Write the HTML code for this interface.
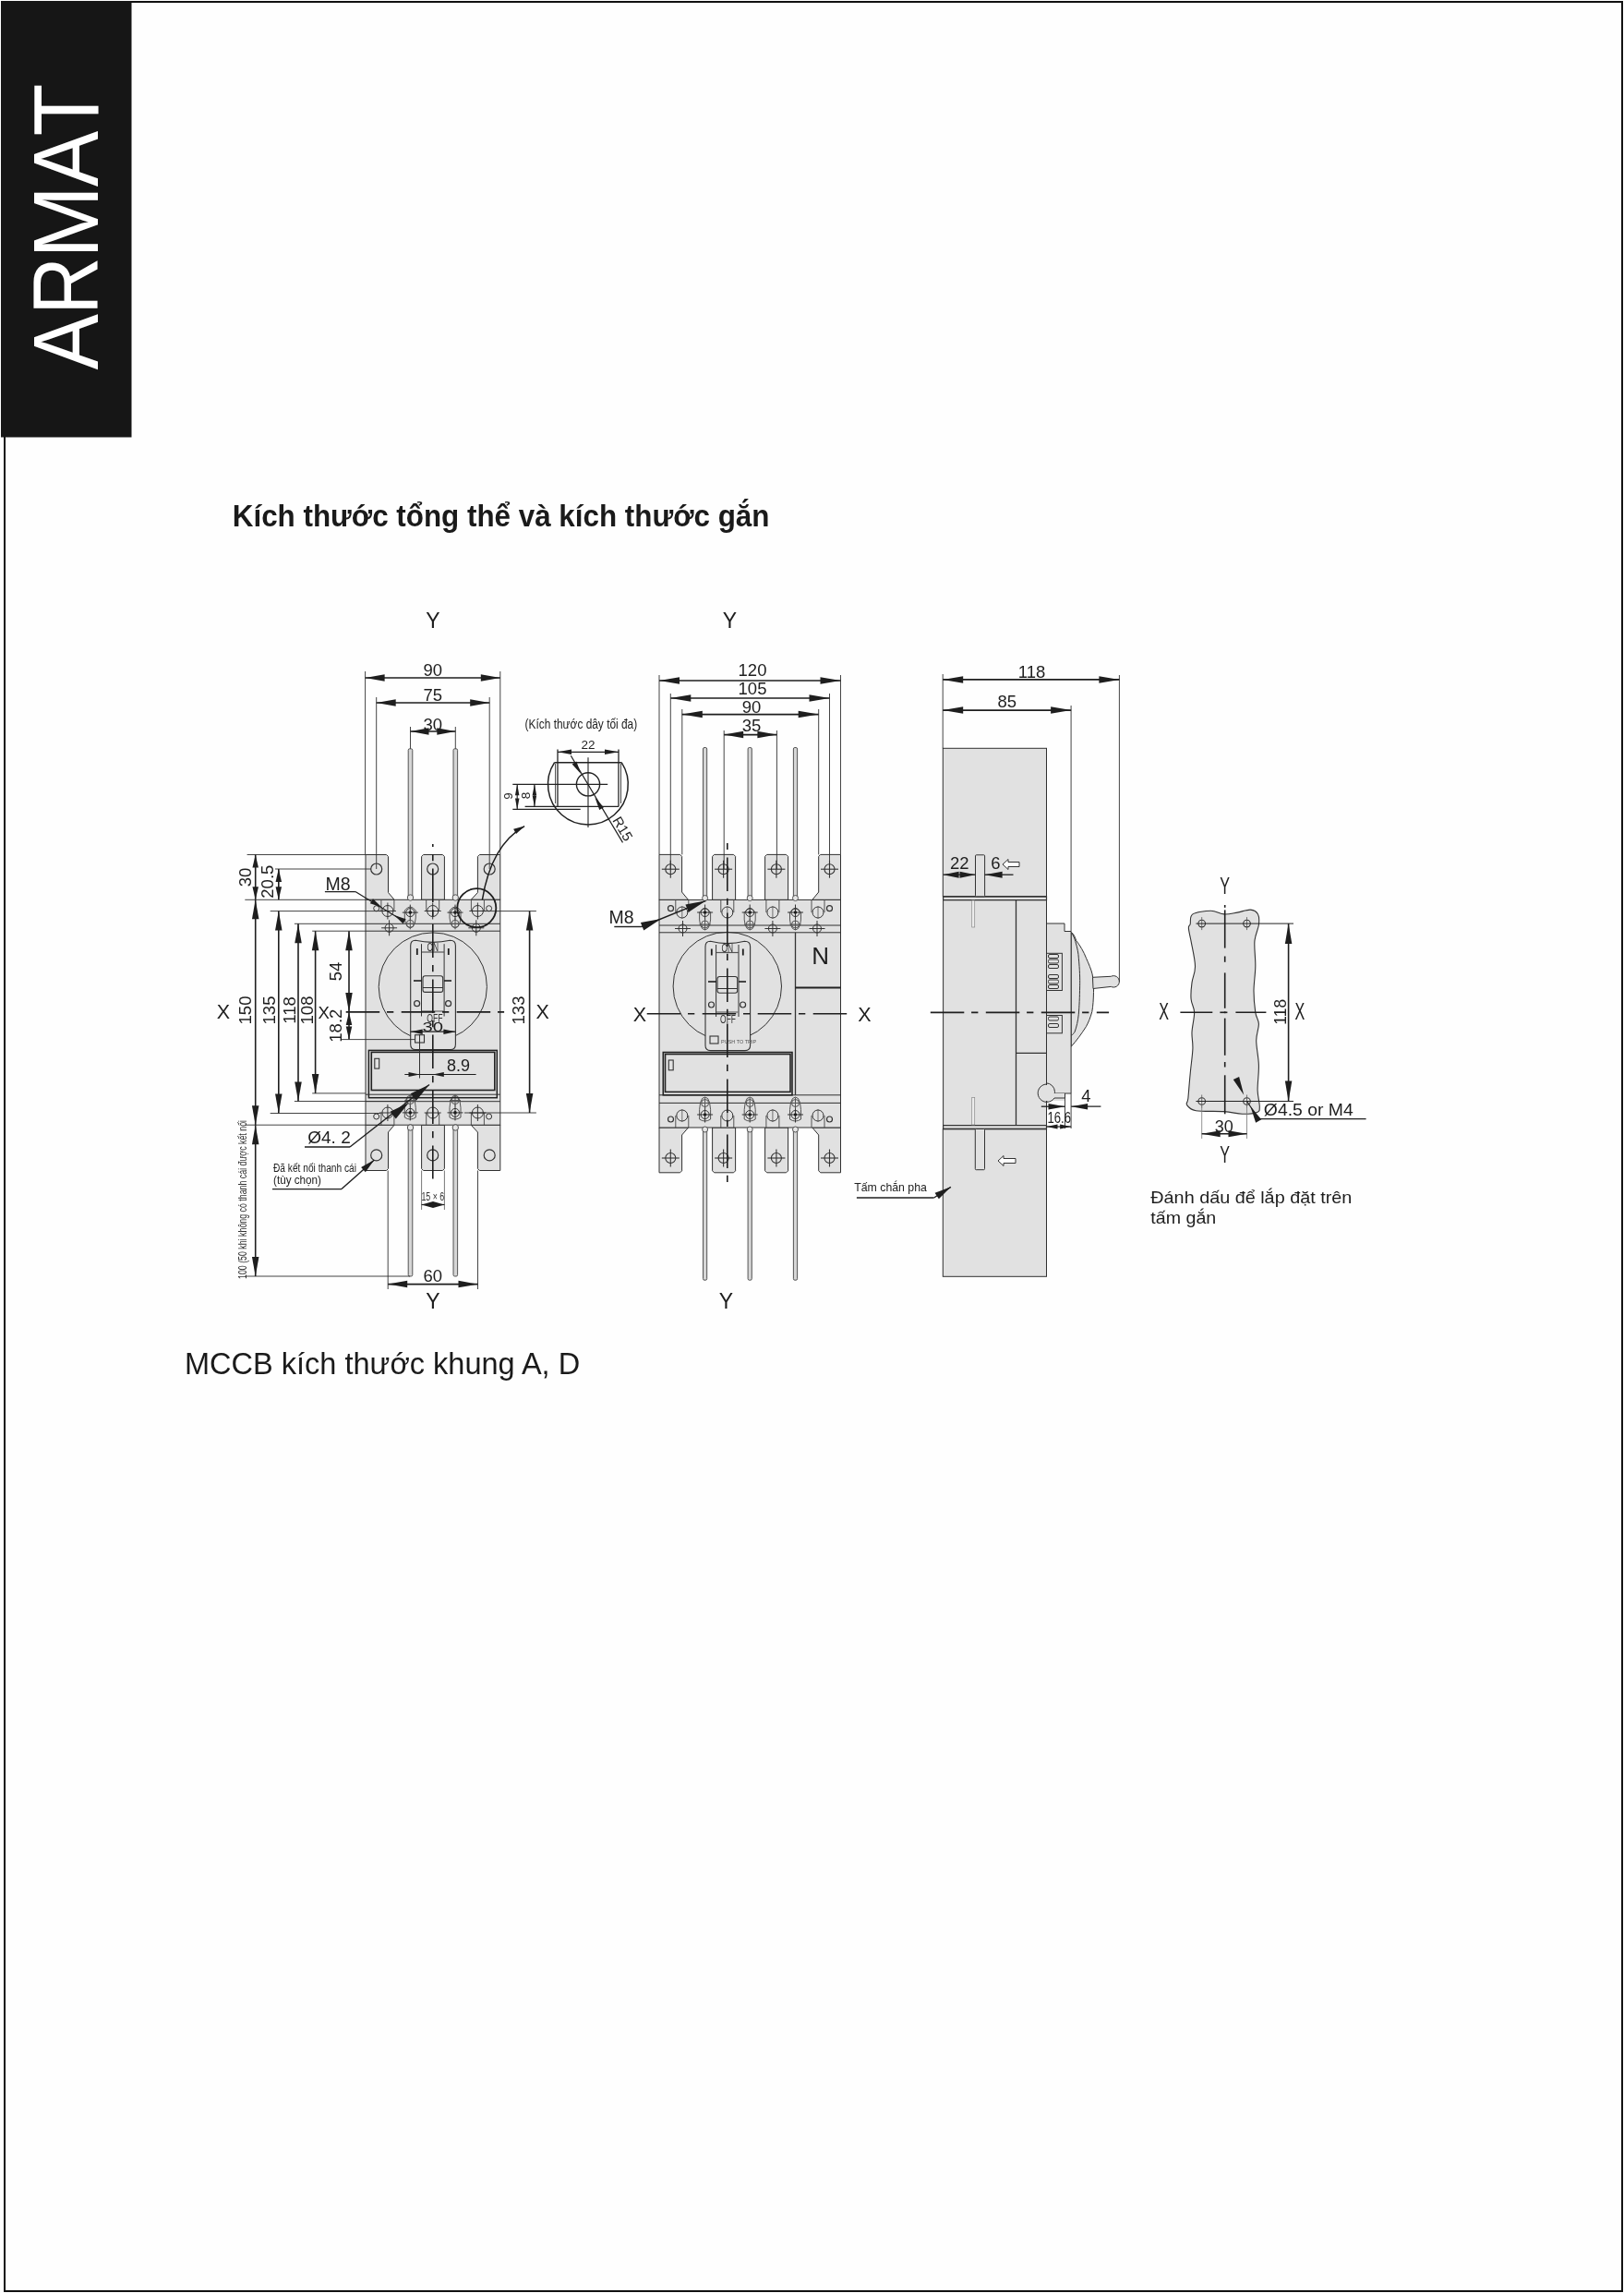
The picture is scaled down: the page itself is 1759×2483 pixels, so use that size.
<!DOCTYPE html>
<html><head><meta charset="utf-8">
<style>
html,body{margin:0;padding:0;background:#fff;}
body{width:1759px;height:2483px;overflow:hidden;position:relative;font-family:"Liberation Sans",sans-serif;}
svg{position:absolute;left:0;top:0;will-change:transform;}
</style></head>
<body>
<svg width="1759" height="2483" viewBox="0 0 1759 2483" font-family="Liberation Sans, sans-serif">
<rect x="0" y="0" width="1759" height="2483" fill="#fefefe"/>
<rect x="5" y="2" width="1752" height="2479" fill="none" stroke="#111" stroke-width="2"/>
<rect x="1" y="1" width="141.5" height="472.5" fill="#161616"/>
<text transform="translate(106,400.2) rotate(-90) translate(-0.18,0) scale(0.908,1)" font-size="100" fill="#fff">A</text>
<text transform="translate(106,400.2) rotate(-90) translate(59.27,0) scale(0.87,1)" font-size="100" fill="#fff">R</text>
<text transform="translate(106,400.2) rotate(-90) translate(120.54,0) scale(0.946,1)" font-size="100" fill="#fff">M</text>
<text transform="translate(106,400.2) rotate(-90) translate(198.02,0) scale(0.908,1)" font-size="100" fill="#fff">A</text>
<text transform="translate(106,400.2) rotate(-90) translate(252.86,0) scale(0.926,1)" font-size="100" fill="#fff">T</text>
<text transform="translate(251.8,569.7) scale(0.954,1)" font-size="32.9" font-weight="bold" fill="#1a1a1a">Kích thước tổng thể và kích thước gắn</text>
<text transform="translate(200,1488) scale(0.957,1)" font-size="34" fill="#1a1a1a">MCCB kích thước khung A, D</text>
<polygon points="396,925.5 418.5,925.5 420.5,927.5 420.5,966.5 427.1,974.3 396,974.3" fill="#e1e1e1" stroke="#303030" stroke-width="1.0" stroke-linejoin="round"/>
<polygon points="456.6,974.3 456.6,927.5 458.6,925.5 479.4,925.5 481.4,927.5 481.4,974.3" fill="#e1e1e1" stroke="#303030" stroke-width="1.0" stroke-linejoin="round"/>
<polygon points="541.8,925.5 519.4,925.5 517.4,927.5 517.4,966.5 510.2,974.3 541.8,974.3" fill="#e1e1e1" stroke="#303030" stroke-width="1.0" stroke-linejoin="round"/>
<polygon points="396,1218.2 427.1,1218.2 420.5,1226 420.5,1265.5 418.5,1267.5 396,1267.5" fill="#e1e1e1" stroke="#303030" stroke-width="1.0" stroke-linejoin="round"/>
<polygon points="456.6,1218.2 456.6,1265.5 458.6,1267.5 479.4,1267.5 481.4,1265.5 481.4,1218.2" fill="#e1e1e1" stroke="#303030" stroke-width="1.0" stroke-linejoin="round"/>
<polygon points="541.8,1218.2 510.2,1218.2 517.4,1226 517.4,1265.5 519.4,1267.5 541.8,1267.5" fill="#e1e1e1" stroke="#303030" stroke-width="1.0" stroke-linejoin="round"/>
<circle cx="407.7" cy="941" r="6" fill="none" stroke="#333" stroke-width="1.2"/>
<circle cx="407.7" cy="1250.9" r="6" fill="none" stroke="#333" stroke-width="1.2"/>
<circle cx="468.7" cy="941" r="6" fill="none" stroke="#333" stroke-width="1.2"/>
<circle cx="468.7" cy="1250.9" r="6" fill="none" stroke="#333" stroke-width="1.2"/>
<circle cx="530.2" cy="941" r="6" fill="none" stroke="#333" stroke-width="1.2"/>
<circle cx="530.2" cy="1250.9" r="6" fill="none" stroke="#333" stroke-width="1.2"/>
<rect x="396" y="974.3" width="145.8" height="243.9" fill="#e1e1e1" stroke="#303030" stroke-width="1.0"/>
<line x1="396" y1="1000.3" x2="541.8" y2="1000.3" stroke="#303030" stroke-width="1.0" stroke-linecap="butt"/>
<line x1="396" y1="1008.2" x2="541.8" y2="1008.2" stroke="#303030" stroke-width="1.0" stroke-linecap="butt"/>
<line x1="396" y1="1192.7" x2="541.8" y2="1192.7" stroke="#303030" stroke-width="1.0" stroke-linecap="butt"/>
<path d="M412.9,974.3 V986.5 M426.9,974.3 V986.5" fill="none" stroke="#444" stroke-width="0.9" />
<circle cx="419.9" cy="986.5" r="6" fill="none" stroke="#333" stroke-width="1.0"/>
<line x1="410.9" y1="986.5" x2="428.9" y2="986.5" stroke="#333" stroke-width="1.0" stroke-linecap="butt"/>
<line x1="419.9" y1="977.5" x2="419.9" y2="995.5" stroke="#333" stroke-width="1.0" stroke-linecap="butt"/>
<path d="M510.4,974.3 V986.5 M524.4,974.3 V986.5" fill="none" stroke="#444" stroke-width="0.9" />
<circle cx="517.4" cy="986.5" r="6" fill="none" stroke="#333" stroke-width="1.0"/>
<line x1="508.4" y1="986.5" x2="526.4" y2="986.5" stroke="#333" stroke-width="1.0" stroke-linecap="butt"/>
<line x1="517.4" y1="977.5" x2="517.4" y2="995.5" stroke="#333" stroke-width="1.0" stroke-linecap="butt"/>
<path d="M461.7,974.3 V986.5 M475.7,974.3 V986.5" fill="none" stroke="#444" stroke-width="0.9" />
<circle cx="468.7" cy="986.5" r="6" fill="none" stroke="#333" stroke-width="1.0"/>
<line x1="459.7" y1="986.5" x2="477.7" y2="986.5" stroke="#333" stroke-width="1.0" stroke-linecap="butt"/>
<line x1="468.7" y1="977.5" x2="468.7" y2="995.5" stroke="#333" stroke-width="1.0" stroke-linecap="butt"/>
<path d="M438.3,986 Q437.3,1004 444.3,1005 Q451.3,1004 450.3,986 Q444.3,978 438.3,986 Z" fill="none" stroke="#444" stroke-width="0.9" />
<circle cx="444.3" cy="988.1" r="4.5" fill="none" stroke="#333" stroke-width="1.0"/>
<line x1="435.8" y1="988.1" x2="452.8" y2="988.1" stroke="#333" stroke-width="1.0" stroke-linecap="butt"/>
<line x1="444.3" y1="979.6" x2="444.3" y2="996.6" stroke="#333" stroke-width="1.0" stroke-linecap="butt"/>
<circle cx="444.3" cy="988.1" r="1.8" fill="#1e1e1e" stroke="none" stroke-width="0"/>
<circle cx="444.3" cy="1000.3" r="4" fill="none" stroke="#555" stroke-width="1.0"/>
<line x1="438.3" y1="1000.3" x2="450.3" y2="1000.3" stroke="#555" stroke-width="1.0" stroke-linecap="butt"/>
<line x1="444.3" y1="994.3" x2="444.3" y2="1006.3" stroke="#555" stroke-width="1.0" stroke-linecap="butt"/>
<path d="M487.0,986 Q486.0,1004 493.0,1005 Q500.0,1004 499.0,986 Q493.0,978 487.0,986 Z" fill="none" stroke="#444" stroke-width="0.9" />
<circle cx="493" cy="988.1" r="4.5" fill="none" stroke="#333" stroke-width="1.0"/>
<line x1="484.5" y1="988.1" x2="501.5" y2="988.1" stroke="#333" stroke-width="1.0" stroke-linecap="butt"/>
<line x1="493" y1="979.6" x2="493" y2="996.6" stroke="#333" stroke-width="1.0" stroke-linecap="butt"/>
<circle cx="493" cy="988.1" r="1.8" fill="#1e1e1e" stroke="none" stroke-width="0"/>
<circle cx="493" cy="1000.3" r="4" fill="none" stroke="#555" stroke-width="1.0"/>
<line x1="487" y1="1000.3" x2="499" y2="1000.3" stroke="#555" stroke-width="1.0" stroke-linecap="butt"/>
<line x1="493" y1="994.3" x2="493" y2="1006.3" stroke="#555" stroke-width="1.0" stroke-linecap="butt"/>
<circle cx="421.6" cy="1004.8" r="4.5" fill="none" stroke="#333" stroke-width="1.0"/>
<line x1="413.1" y1="1004.8" x2="430.1" y2="1004.8" stroke="#333" stroke-width="1.0" stroke-linecap="butt"/>
<line x1="421.6" y1="996.3" x2="421.6" y2="1013.3" stroke="#333" stroke-width="1.0" stroke-linecap="butt"/>
<circle cx="515.8" cy="1004.8" r="4.5" fill="none" stroke="#333" stroke-width="1.0"/>
<line x1="507.3" y1="1004.8" x2="524.3" y2="1004.8" stroke="#333" stroke-width="1.0" stroke-linecap="butt"/>
<line x1="515.8" y1="996.3" x2="515.8" y2="1013.3" stroke="#333" stroke-width="1.0" stroke-linecap="butt"/>
<circle cx="407.7" cy="983.7" r="3" fill="none" stroke="#333" stroke-width="1"/>
<circle cx="529.6" cy="983.7" r="3" fill="none" stroke="#333" stroke-width="1"/>
<path d="M412.9,1218.2 V1205 M426.9,1218.2 V1205" fill="none" stroke="#444" stroke-width="0.9" />
<circle cx="419.9" cy="1205" r="6" fill="none" stroke="#333" stroke-width="1.0"/>
<line x1="410.9" y1="1205" x2="428.9" y2="1205" stroke="#333" stroke-width="1.0" stroke-linecap="butt"/>
<line x1="419.9" y1="1196" x2="419.9" y2="1214" stroke="#333" stroke-width="1.0" stroke-linecap="butt"/>
<path d="M510.4,1218.2 V1205 M524.4,1218.2 V1205" fill="none" stroke="#444" stroke-width="0.9" />
<circle cx="517.4" cy="1205" r="6" fill="none" stroke="#333" stroke-width="1.0"/>
<line x1="508.4" y1="1205" x2="526.4" y2="1205" stroke="#333" stroke-width="1.0" stroke-linecap="butt"/>
<line x1="517.4" y1="1196" x2="517.4" y2="1214" stroke="#333" stroke-width="1.0" stroke-linecap="butt"/>
<path d="M461.7,1218.2 V1205 M475.7,1218.2 V1205" fill="none" stroke="#444" stroke-width="0.9" />
<circle cx="468.7" cy="1205" r="6" fill="none" stroke="#333" stroke-width="1.0"/>
<line x1="459.7" y1="1205" x2="477.7" y2="1205" stroke="#333" stroke-width="1.0" stroke-linecap="butt"/>
<line x1="468.7" y1="1196" x2="468.7" y2="1214" stroke="#333" stroke-width="1.0" stroke-linecap="butt"/>
<path d="M438.3,1210 Q437.3,1186 444.3,1186 Q451.3,1186 450.3,1210 Q444.3,1214 438.3,1210 Z" fill="none" stroke="#444" stroke-width="0.9" />
<circle cx="444.3" cy="1204.9" r="4.5" fill="none" stroke="#333" stroke-width="1.0"/>
<line x1="435.8" y1="1204.9" x2="452.8" y2="1204.9" stroke="#333" stroke-width="1.0" stroke-linecap="butt"/>
<line x1="444.3" y1="1196.4" x2="444.3" y2="1213.4" stroke="#333" stroke-width="1.0" stroke-linecap="butt"/>
<circle cx="444.3" cy="1204.9" r="1.8" fill="#1e1e1e" stroke="none" stroke-width="0"/>
<circle cx="444.3" cy="1191.6" r="4" fill="none" stroke="#555" stroke-width="1.0"/>
<line x1="438.3" y1="1191.6" x2="450.3" y2="1191.6" stroke="#555" stroke-width="1.0" stroke-linecap="butt"/>
<line x1="444.3" y1="1185.6" x2="444.3" y2="1197.6" stroke="#555" stroke-width="1.0" stroke-linecap="butt"/>
<path d="M487.0,1210 Q486.0,1186 493.0,1186 Q500.0,1186 499.0,1210 Q493.0,1214 487.0,1210 Z" fill="none" stroke="#444" stroke-width="0.9" />
<circle cx="493" cy="1204.9" r="4.5" fill="none" stroke="#333" stroke-width="1.0"/>
<line x1="484.5" y1="1204.9" x2="501.5" y2="1204.9" stroke="#333" stroke-width="1.0" stroke-linecap="butt"/>
<line x1="493" y1="1196.4" x2="493" y2="1213.4" stroke="#333" stroke-width="1.0" stroke-linecap="butt"/>
<circle cx="493" cy="1204.9" r="1.8" fill="#1e1e1e" stroke="none" stroke-width="0"/>
<circle cx="493" cy="1191.6" r="4" fill="none" stroke="#555" stroke-width="1.0"/>
<line x1="487" y1="1191.6" x2="499" y2="1191.6" stroke="#555" stroke-width="1.0" stroke-linecap="butt"/>
<line x1="493" y1="1185.6" x2="493" y2="1197.6" stroke="#555" stroke-width="1.0" stroke-linecap="butt"/>
<circle cx="407.7" cy="1209" r="3" fill="none" stroke="#333" stroke-width="1"/>
<circle cx="529.6" cy="1209" r="3" fill="none" stroke="#333" stroke-width="1"/>
<rect x="442.2" y="810.8" width="4.6" height="163.2" rx="1.5" fill="#d6d6d6" stroke="#444" stroke-width="0.9"/>
<rect x="491" y="810.8" width="4.6" height="163.2" rx="1.5" fill="#d6d6d6" stroke="#444" stroke-width="0.9"/>
<rect x="442.2" y="1218.2" width="4.6" height="163.8" rx="1.5" fill="#d6d6d6" stroke="#444" stroke-width="0.9"/>
<rect x="491" y="1218.2" width="4.6" height="163.8" rx="1.5" fill="#d6d6d6" stroke="#444" stroke-width="0.9"/>
<circle cx="444.5" cy="972" r="3.2" fill="#e6e6e6" stroke="#444" stroke-width="0.9"/>
<circle cx="444.5" cy="1221" r="3.2" fill="#e6e6e6" stroke="#444" stroke-width="0.9"/>
<circle cx="493.3" cy="972" r="3.2" fill="#e6e6e6" stroke="#444" stroke-width="0.9"/>
<circle cx="493.3" cy="1221" r="3.2" fill="#e6e6e6" stroke="#444" stroke-width="0.9"/>
<circle cx="468.8" cy="1068.5" r="58.6" fill="none" stroke="#333" stroke-width="1.0"/>
<path d="M444.7,1024 Q444.7,1018.2 450,1018.2 Q468.8,1022.5 487.5,1018.2 Q493.4,1018.2 493.4,1024 V1131 Q493.4,1136.5 488,1136.5 H450 Q444.7,1136.5 444.7,1131 Z" fill="#e1e1e1" stroke="#333" stroke-width="1.1" />
<path d="M456.5,1022.2 V1100.5 M481.1,1022.2 V1100.5" fill="none" stroke="#333" stroke-width="1.0" />
<line x1="457" y1="1031" x2="481" y2="1031" stroke="#555" stroke-width="1.2" stroke-linecap="butt"/>
<line x1="457" y1="1095" x2="481" y2="1095" stroke="#777" stroke-width="1.4" stroke-linecap="butt"/>
<rect x="458" y="1056.7" width="21.7" height="17.7" rx="2.5" fill="#e1e1e1" stroke="#333" stroke-width="1.1"/>
<line x1="458" y1="1069.5" x2="479.7" y2="1069.5" stroke="#303030" stroke-width="1.0" stroke-linecap="butt"/>
<line x1="448" y1="1062" x2="457" y2="1062" stroke="#1e1e1e" stroke-width="1.6" stroke-linecap="butt"/>
<line x1="481" y1="1062" x2="489" y2="1062" stroke="#1e1e1e" stroke-width="1.6" stroke-linecap="butt"/>
<circle cx="451.6" cy="1086.7" r="3" fill="none" stroke="#333" stroke-width="1.2"/>
<circle cx="485.6" cy="1086.7" r="3" fill="none" stroke="#333" stroke-width="1.2"/>
<line x1="451.8" y1="1027" x2="451.8" y2="1034" stroke="#1e1e1e" stroke-width="1.8" stroke-linecap="butt"/>
<line x1="485.8" y1="1027" x2="485.8" y2="1034" stroke="#1e1e1e" stroke-width="1.8" stroke-linecap="butt"/>
<text transform="translate(468.8,1030) scale(0.7,1)" font-size="12" text-anchor="middle" fill="#333">ON</text>
<text transform="translate(470.8,1107) scale(0.72,1)" font-size="12" text-anchor="middle" fill="#333">OFF</text>
<rect x="449.6" y="1120.7" width="9.9" height="8.3" fill="none" stroke="#333" stroke-width="1.1"/>
<rect x="399.4" y="1137.4" width="138.9" height="51.3" fill="none" stroke="#222" stroke-width="1.5"/>
<line x1="396" y1="1185.2" x2="541.8" y2="1185.2" stroke="#303030" stroke-width="1.0" stroke-linecap="butt"/>
<rect x="402.3" y="1139.4" width="133.5" height="41.1" fill="none" stroke="#222" stroke-width="1.6"/>
<rect x="405.8" y="1146.3" width="4.9" height="10.8" fill="none" stroke="#333" stroke-width="1.1"/>
<line x1="468.8" y1="914" x2="468.8" y2="1276.4" stroke="#1e1e1e" stroke-width="1.6" stroke-dasharray="36.5,7.8,7.3,8.4" stroke-dashoffset="33.4"/>
<line x1="374.7" y1="1095.9" x2="546.1" y2="1095.9" stroke="#1e1e1e" stroke-width="1.6" stroke-dasharray="36.5,7.8,7.3,8.4" stroke-dashoffset="0"/>
<line x1="395.6" y1="727" x2="395.6" y2="925.5" stroke="#303030" stroke-width="0.9" stroke-linecap="butt"/>
<line x1="541.8" y1="727" x2="541.8" y2="925.5" stroke="#303030" stroke-width="0.9" stroke-linecap="butt"/>
<line x1="407.7" y1="755" x2="407.7" y2="941" stroke="#303030" stroke-width="0.9" stroke-linecap="butt"/>
<line x1="530.2" y1="755" x2="530.2" y2="941" stroke="#303030" stroke-width="0.9" stroke-linecap="butt"/>
<line x1="444.5" y1="787" x2="444.5" y2="810.8" stroke="#303030" stroke-width="0.9" stroke-linecap="butt"/>
<line x1="493.3" y1="787" x2="493.3" y2="810.8" stroke="#303030" stroke-width="0.9" stroke-linecap="butt"/>
<line x1="395.6" y1="734" x2="541.8" y2="734" stroke="#1e1e1e" stroke-width="1.6" stroke-linecap="butt"/>
<polygon points="395.6,734 416.6,730.25 416.6,737.75" fill="#1e1e1e"/>
<polygon points="541.8,734 520.8,737.75 520.8,730.25" fill="#1e1e1e"/>
<line x1="407.7" y1="761" x2="530.2" y2="761" stroke="#1e1e1e" stroke-width="1.6" stroke-linecap="butt"/>
<polygon points="407.7,761 428.7,757.25 428.7,764.75" fill="#1e1e1e"/>
<polygon points="530.2,761 509.2,764.75 509.2,757.25" fill="#1e1e1e"/>
<line x1="444.5" y1="792" x2="493.3" y2="792" stroke="#1e1e1e" stroke-width="1.6" stroke-linecap="butt"/>
<polygon points="444.5,792 464.5,788.25 464.5,795.75" fill="#1e1e1e"/>
<polygon points="493.3,792 473.3,795.75 473.3,788.25" fill="#1e1e1e"/>
<text transform="translate(468.8,732)" font-size="18.5" text-anchor="middle" fill="#1e1e1e">90</text>
<text transform="translate(468.8,758.7)" font-size="18.5" text-anchor="middle" fill="#1e1e1e">75</text>
<text transform="translate(468.8,790.5)" font-size="18.5" text-anchor="middle" fill="#1e1e1e">30</text>
<line x1="267.6" y1="925.5" x2="396" y2="925.5" stroke="#303030" stroke-width="0.9" stroke-linecap="butt"/>
<line x1="298" y1="941" x2="401.7" y2="941" stroke="#303030" stroke-width="0.9" stroke-linecap="butt"/>
<line x1="265.3" y1="974.3" x2="396" y2="974.3" stroke="#303030" stroke-width="0.9" stroke-linecap="butt"/>
<line x1="292.7" y1="986.6" x2="413.8" y2="986.6" stroke="#303030" stroke-width="0.9" stroke-linecap="butt"/>
<line x1="318.9" y1="1000.3" x2="396" y2="1000.3" stroke="#303030" stroke-width="0.9" stroke-linecap="butt"/>
<line x1="338.2" y1="1008.2" x2="396" y2="1008.2" stroke="#303030" stroke-width="0.9" stroke-linecap="butt"/>
<line x1="370" y1="1125.6" x2="449.6" y2="1125.6" stroke="#303030" stroke-width="0.9" stroke-linecap="butt"/>
<line x1="338.2" y1="1183.9" x2="396" y2="1183.9" stroke="#303030" stroke-width="0.9" stroke-linecap="butt"/>
<line x1="318.9" y1="1192.5" x2="443" y2="1192.5" stroke="#303030" stroke-width="0.9" stroke-linecap="butt"/>
<line x1="292.7" y1="1205.5" x2="412" y2="1205.5" stroke="#303030" stroke-width="0.9" stroke-linecap="butt"/>
<line x1="265.3" y1="1218.2" x2="396" y2="1218.2" stroke="#303030" stroke-width="0.9" stroke-linecap="butt"/>
<line x1="265.3" y1="1382" x2="444" y2="1382" stroke="#303030" stroke-width="0.9" stroke-linecap="butt"/>
<line x1="524" y1="986.6" x2="580.9" y2="986.6" stroke="#303030" stroke-width="0.9" stroke-linecap="butt"/>
<line x1="503" y1="1205" x2="580.9" y2="1205" stroke="#303030" stroke-width="0.9" stroke-linecap="butt"/>
<line x1="276.7" y1="925.5" x2="276.7" y2="974.3" stroke="#1e1e1e" stroke-width="1.6" stroke-linecap="butt"/>
<polygon points="276.7,925.5 279.95,939.5 273.45,939.5" fill="#1e1e1e"/>
<polygon points="276.7,974.3 273.45,960.3 279.95,960.3" fill="#1e1e1e"/>
<line x1="301.8" y1="941" x2="301.8" y2="974.3" stroke="#1e1e1e" stroke-width="1.6" stroke-linecap="butt"/>
<polygon points="301.8,941 305.05,955 298.55,955" fill="#1e1e1e"/>
<polygon points="301.8,974.3 298.55,960.3 305.05,960.3" fill="#1e1e1e"/>
<line x1="276.7" y1="974.3" x2="276.7" y2="1218.2" stroke="#1e1e1e" stroke-width="1.6" stroke-linecap="butt"/>
<polygon points="276.7,974.3 280.45,995.3 272.95,995.3" fill="#1e1e1e"/>
<polygon points="276.7,1218.2 272.95,1197.2 280.45,1197.2" fill="#1e1e1e"/>
<line x1="301.8" y1="986.6" x2="301.8" y2="1205.5" stroke="#1e1e1e" stroke-width="1.6" stroke-linecap="butt"/>
<polygon points="301.8,986.6 305.55,1007.6 298.05,1007.6" fill="#1e1e1e"/>
<polygon points="301.8,1205.5 298.05,1184.5 305.55,1184.5" fill="#1e1e1e"/>
<line x1="323" y1="1000.3" x2="323" y2="1192.5" stroke="#1e1e1e" stroke-width="1.6" stroke-linecap="butt"/>
<polygon points="323,1000.3 326.75,1021.3 319.25,1021.3" fill="#1e1e1e"/>
<polygon points="323,1192.5 319.25,1171.5 326.75,1171.5" fill="#1e1e1e"/>
<line x1="341.6" y1="1008.2" x2="341.6" y2="1183.9" stroke="#1e1e1e" stroke-width="1.6" stroke-linecap="butt"/>
<polygon points="341.6,1008.2 345.35,1029.2 337.85,1029.2" fill="#1e1e1e"/>
<polygon points="341.6,1183.9 337.85,1162.9 345.35,1162.9" fill="#1e1e1e"/>
<line x1="378" y1="1008.2" x2="378" y2="1096" stroke="#1e1e1e" stroke-width="1.6" stroke-linecap="butt"/>
<polygon points="378,1008.2 381.75,1029.2 374.25,1029.2" fill="#1e1e1e"/>
<polygon points="378,1096 374.25,1075 381.75,1075" fill="#1e1e1e"/>
<line x1="378" y1="1096" x2="378" y2="1125.6" stroke="#1e1e1e" stroke-width="1.6" stroke-linecap="butt"/>
<polygon points="378,1096 381.25,1110 374.75,1110" fill="#1e1e1e"/>
<polygon points="378,1125.6 374.75,1111.6 381.25,1111.6" fill="#1e1e1e"/>
<line x1="573.6" y1="986.6" x2="573.6" y2="1205" stroke="#1e1e1e" stroke-width="1.6" stroke-linecap="butt"/>
<polygon points="573.6,986.6 577.35,1007.6 569.85,1007.6" fill="#1e1e1e"/>
<polygon points="573.6,1205 569.85,1184 577.35,1184" fill="#1e1e1e"/>
<line x1="276.7" y1="1218.2" x2="276.7" y2="1382" stroke="#1e1e1e" stroke-width="1.6" stroke-linecap="butt"/>
<polygon points="276.7,1218.2 280.45,1239.2 272.95,1239.2" fill="#1e1e1e"/>
<polygon points="276.7,1382 272.95,1361 280.45,1361" fill="#1e1e1e"/>
<text transform="translate(272.2,950) rotate(-90)" font-size="18.5" text-anchor="middle" fill="#1e1e1e">30</text>
<text transform="translate(296,954.7) rotate(-90)" font-size="18.5" text-anchor="middle" fill="#1e1e1e">20.5</text>
<text transform="translate(272.2,1094) rotate(-90)" font-size="18.5" text-anchor="middle" fill="#1e1e1e">150</text>
<text transform="translate(298.4,1094) rotate(-90)" font-size="18.5" text-anchor="middle" fill="#1e1e1e">135</text>
<text transform="translate(320,1094) rotate(-90)" font-size="18.5" text-anchor="middle" fill="#1e1e1e">118</text>
<text transform="translate(339.4,1094) rotate(-90)" font-size="18.5" text-anchor="middle" fill="#1e1e1e">108</text>
<text transform="translate(370.1,1052) rotate(-90)" font-size="18.5" text-anchor="middle" fill="#1e1e1e">54</text>
<text transform="translate(370.1,1110.7) rotate(-90)" font-size="18.5" text-anchor="middle" fill="#1e1e1e">18.2</text>
<text transform="translate(568.3,1094) rotate(-90)" font-size="18.5" text-anchor="middle" fill="#1e1e1e">133</text>
<text transform="translate(350.7,1103)" font-size="18.6" text-anchor="middle" fill="#1e1e1e">X</text>
<text transform="translate(242,1103)" font-size="21.5" text-anchor="middle" fill="#1e1e1e">X</text>
<text transform="translate(587.7,1103)" font-size="21.5" text-anchor="middle" fill="#1e1e1e">X</text>
<text transform="translate(468.8,680.2)" font-size="23" text-anchor="middle" fill="#1e1e1e">Y</text>
<text transform="translate(468.8,1417.2)" font-size="23" text-anchor="middle" fill="#1e1e1e">Y</text>
<line x1="444.7" y1="1117.2" x2="493.4" y2="1117.2" stroke="#1e1e1e" stroke-width="1.3" stroke-linecap="butt"/>
<polygon points="444.7,1117.2 457.7,1114.45 457.7,1119.95" fill="#1e1e1e"/>
<polygon points="493.4,1117.2 480.4,1119.95 480.4,1114.45" fill="#1e1e1e"/>
<text transform="translate(468.8,1116.6) scale(1.45,1)" font-size="14" text-anchor="middle" fill="#1e1e1e">30</text>
<line x1="454.5" y1="1120" x2="454.5" y2="1167.5" stroke="#303030" stroke-width="1.0" stroke-linecap="butt"/>
<line x1="438.3" y1="1163.5" x2="515.6" y2="1163.5" stroke="#1e1e1e" stroke-width="1.0" stroke-linecap="butt"/>
<polygon points="454.5,1163.5 442.5,1166 442.5,1161" fill="#1e1e1e"/>
<polygon points="468.8,1163.5 480.8,1161 480.8,1166" fill="#1e1e1e"/>
<text transform="translate(496.4,1160.1)" font-size="18" text-anchor="middle" fill="#1e1e1e">8.9</text>
<line x1="420.2" y1="1267.5" x2="420.2" y2="1396" stroke="#303030" stroke-width="0.9" stroke-linecap="butt"/>
<line x1="517.5" y1="1267.5" x2="517.5" y2="1396" stroke="#303030" stroke-width="0.9" stroke-linecap="butt"/>
<line x1="420.2" y1="1390.6" x2="517.5" y2="1390.6" stroke="#1e1e1e" stroke-width="1.6" stroke-linecap="butt"/>
<polygon points="420.2,1390.6 441.2,1386.85 441.2,1394.35" fill="#1e1e1e"/>
<polygon points="517.5,1390.6 496.5,1394.35 496.5,1386.85" fill="#1e1e1e"/>
<text transform="translate(468.8,1388.3)" font-size="18.5" text-anchor="middle" fill="#1e1e1e">60</text>
<line x1="456.6" y1="1267.5" x2="456.6" y2="1310" stroke="#555" stroke-width="0.8" stroke-linecap="butt"/>
<line x1="481.4" y1="1267.5" x2="481.4" y2="1310" stroke="#555" stroke-width="0.8" stroke-linecap="butt"/>
<line x1="456.6" y1="1304.5" x2="481.4" y2="1304.5" stroke="#1e1e1e" stroke-width="1.2" stroke-linecap="butt"/>
<polygon points="456.6,1304.5 469,1301 469,1308" fill="#1e1e1e"/>
<polygon points="481.4,1304.5 469,1308 469,1301" fill="#1e1e1e"/>
<text transform="translate(468.8,1299.5) scale(0.68,1)" font-size="13" text-anchor="middle" fill="#333">15 × 6</text>
<line x1="351.9" y1="965.6" x2="384.9" y2="965.6" stroke="#1e1e1e" stroke-width="1.4" stroke-linecap="butt"/>
<line x1="384.9" y1="965.6" x2="438" y2="998" stroke="#1e1e1e" stroke-width="1.2" stroke-linecap="butt"/>
<polygon points="413.5,982.5 400.84,978.29 403.96,973.17" fill="#1e1e1e"/>
<polygon points="427,991 439.66,995.21 436.54,1000.33" fill="#1e1e1e"/>
<text transform="translate(366,963.8)" font-size="19.5" text-anchor="middle" fill="#1e1e1e">M8</text>
<line x1="330" y1="1242" x2="379" y2="1242" stroke="#1e1e1e" stroke-width="1.4" stroke-linecap="butt"/>
<line x1="379" y1="1242" x2="465" y2="1174.5" stroke="#1e1e1e" stroke-width="1.4" stroke-linecap="butt"/>
<polygon points="465,1174.5 450.78,1192.02 444.61,1184.15" fill="#1e1e1e"/>
<polygon points="443,1194 428.78,1211.52 422.61,1203.65" fill="#1e1e1e"/>
<text transform="translate(356.5,1237.5)" font-size="19" text-anchor="middle" fill="#1e1e1e">Ø4. 2</text>
<line x1="295" y1="1287.6" x2="370" y2="1287.6" stroke="#1e1e1e" stroke-width="1.4" stroke-linecap="butt"/>
<line x1="370" y1="1287.6" x2="405.4" y2="1256" stroke="#1e1e1e" stroke-width="1.4" stroke-linecap="butt"/>
<polygon points="405.4,1256 395.79,1269.27 391.13,1264.04" fill="#1e1e1e"/>
<text transform="translate(296,1268.7)" font-size="12.5" text-anchor="start" fill="#222" textLength="90" lengthAdjust="spacingAndGlyphs">Đã kết nối thanh cái</text>
<text transform="translate(296,1282)" font-size="12.5" text-anchor="start" fill="#222" textLength="52" lengthAdjust="spacingAndGlyphs">(tùy chọn)</text>
<text transform="translate(266.5,1299) rotate(-90)" font-size="12.5" text-anchor="middle" fill="#333" textLength="172" lengthAdjust="spacingAndGlyphs">100 (50 khi không có thanh cái được kết nối</text>
<text transform="translate(629.4,789.2)" font-size="13.8" text-anchor="middle" fill="#222" textLength="121.6" lengthAdjust="spacingAndGlyphs">(Kích thước dây tối đa)</text>
<path d="M600.6,825.7 A43.4,43.4 0 1 0 673.2,825.7" fill="none" stroke="#222" stroke-width="1.5" />
<line x1="600.6" y1="825.7" x2="673.2" y2="825.7" stroke="#222" stroke-width="1.5" stroke-linecap="butt"/>
<line x1="604" y1="811.4" x2="604" y2="873.4" stroke="#222" stroke-width="1.3" stroke-linecap="butt"/>
<line x1="670" y1="811.4" x2="670" y2="873.4" stroke="#222" stroke-width="1.3" stroke-linecap="butt"/>
<line x1="601.6" y1="827" x2="601.6" y2="870" stroke="#444" stroke-width="1.0" stroke-linecap="butt"/>
<line x1="672.5" y1="827" x2="672.5" y2="870" stroke="#444" stroke-width="1.0" stroke-linecap="butt"/>
<line x1="568.6" y1="873.4" x2="670" y2="873.4" stroke="#222" stroke-width="1.3" stroke-linecap="butt"/>
<line x1="555.3" y1="876.4" x2="628.7" y2="876.4" stroke="#222" stroke-width="1.3" stroke-linecap="butt"/>
<circle cx="637" cy="849.3" r="12.6" fill="none" stroke="#222" stroke-width="1.4"/>
<line x1="637" y1="820.2" x2="637" y2="896.1" stroke="#222" stroke-width="1.1" stroke-linecap="butt"/>
<line x1="555.3" y1="849.3" x2="658.2" y2="849.3" stroke="#222" stroke-width="1.2" stroke-linecap="butt"/>
<line x1="604" y1="814.3" x2="670" y2="814.3" stroke="#1e1e1e" stroke-width="1.2" stroke-linecap="butt"/>
<polygon points="604,814.3 619,811.55 619,817.05" fill="#1e1e1e"/>
<polygon points="670,814.3 655,817.05 655,811.55" fill="#1e1e1e"/>
<text transform="translate(637,810.9)" font-size="13.5" text-anchor="middle" fill="#1e1e1e">22</text>
<line x1="560.2" y1="849.3" x2="560.2" y2="876.4" stroke="#1e1e1e" stroke-width="1.1" stroke-linecap="butt"/>
<polygon points="560.2,849.3 562.45,861.3 557.95,861.3" fill="#1e1e1e"/>
<polygon points="560.2,876.4 557.95,864.4 562.45,864.4" fill="#1e1e1e"/>
<line x1="578.9" y1="849.3" x2="578.9" y2="873.4" stroke="#1e1e1e" stroke-width="1.1" stroke-linecap="butt"/>
<polygon points="578.9,849.3 581.15,861.3 576.65,861.3" fill="#1e1e1e"/>
<polygon points="578.9,873.4 576.65,861.4 581.15,861.4" fill="#1e1e1e"/>
<text transform="translate(554.8,862.1) rotate(-90)" font-size="13.5" text-anchor="middle" fill="#1e1e1e">9</text>
<text transform="translate(574.3,861.6) rotate(-90)" font-size="13.5" text-anchor="middle" fill="#1e1e1e">8</text>
<line x1="618.3" y1="818.3" x2="674.5" y2="912.4" stroke="#1e1e1e" stroke-width="1.2" stroke-linecap="butt"/>
<polygon points="629.2,838 619.66,827.39 624.38,824.57" fill="#1e1e1e"/>
<polygon points="644.4,863.6 653.94,874.21 649.22,877.03" fill="#1e1e1e"/>
<text transform="translate(670,900) rotate(59.2)" font-size="15" text-anchor="middle" fill="#1e1e1e">R15</text>
<path d="M522.4,974.3 Q532,915 568.1,894.6" fill="none" stroke="#1e1e1e" stroke-width="1.5" />
<polygon points="568.1,894.6 559.03,903.01 556.14,897.75" fill="#1e1e1e"/>
<circle cx="516.3" cy="983.2" r="21" fill="none" stroke="#1e1e1e" stroke-width="1.8"/>
<polygon points="714,925.4 736.6,925.4 738.6,927.4 738.6,966 745.5,974.4 714,974.4" fill="#e1e1e1" stroke="#303030" stroke-width="1.0" stroke-linejoin="round"/>
<polygon points="771.6,974.4 771.6,927.4 773.6,925.4 794.6,925.4 796.6,927.4 796.6,974.4" fill="#e1e1e1" stroke="#303030" stroke-width="1.0" stroke-linejoin="round"/>
<polygon points="771.6,1221 771.6,1267.8 773.6,1269.8 794.6,1269.8 796.6,1267.8 796.6,1221" fill="#e1e1e1" stroke="#303030" stroke-width="1.0" stroke-linejoin="round"/>
<polygon points="828.6,974.4 828.6,927.4 830.6,925.4 851.6,925.4 853.6,927.4 853.6,974.4" fill="#e1e1e1" stroke="#303030" stroke-width="1.0" stroke-linejoin="round"/>
<polygon points="828.6,1221 828.6,1267.8 830.6,1269.8 851.6,1269.8 853.6,1267.8 853.6,1221" fill="#e1e1e1" stroke="#303030" stroke-width="1.0" stroke-linejoin="round"/>
<polygon points="910.5,925.4 888.7,925.4 886.7,927.4 886.7,966 879.8,974.4 910.5,974.4" fill="#e1e1e1" stroke="#303030" stroke-width="1.0" stroke-linejoin="round"/>
<polygon points="714,1221 745.5,1221 738.6,1229 738.6,1267.8 736.6,1269.8 714,1269.8" fill="#e1e1e1" stroke="#303030" stroke-width="1.0" stroke-linejoin="round"/>
<polygon points="910.5,1221 879.8,1221 886.7,1229 886.7,1267.8 888.7,1269.8 910.5,1269.8" fill="#e1e1e1" stroke="#303030" stroke-width="1.0" stroke-linejoin="round"/>
<circle cx="726.3" cy="941.2" r="5.5" fill="none" stroke="#333" stroke-width="1.1"/>
<line x1="716.8" y1="941.2" x2="735.8" y2="941.2" stroke="#333" stroke-width="1.1" stroke-linecap="butt"/>
<line x1="726.3" y1="931.7" x2="726.3" y2="950.7" stroke="#333" stroke-width="1.1" stroke-linecap="butt"/>
<circle cx="726.3" cy="1254" r="5.5" fill="none" stroke="#333" stroke-width="1.1"/>
<line x1="716.8" y1="1254" x2="735.8" y2="1254" stroke="#333" stroke-width="1.1" stroke-linecap="butt"/>
<line x1="726.3" y1="1244.5" x2="726.3" y2="1263.5" stroke="#333" stroke-width="1.1" stroke-linecap="butt"/>
<circle cx="783.6" cy="941.2" r="5.5" fill="none" stroke="#333" stroke-width="1.1"/>
<line x1="774.1" y1="941.2" x2="793.1" y2="941.2" stroke="#333" stroke-width="1.1" stroke-linecap="butt"/>
<line x1="783.6" y1="931.7" x2="783.6" y2="950.7" stroke="#333" stroke-width="1.1" stroke-linecap="butt"/>
<circle cx="783.6" cy="1254" r="5.5" fill="none" stroke="#333" stroke-width="1.1"/>
<line x1="774.1" y1="1254" x2="793.1" y2="1254" stroke="#333" stroke-width="1.1" stroke-linecap="butt"/>
<line x1="783.6" y1="1244.5" x2="783.6" y2="1263.5" stroke="#333" stroke-width="1.1" stroke-linecap="butt"/>
<circle cx="840.9" cy="941.2" r="5.5" fill="none" stroke="#333" stroke-width="1.1"/>
<line x1="831.4" y1="941.2" x2="850.4" y2="941.2" stroke="#333" stroke-width="1.1" stroke-linecap="butt"/>
<line x1="840.9" y1="931.7" x2="840.9" y2="950.7" stroke="#333" stroke-width="1.1" stroke-linecap="butt"/>
<circle cx="840.9" cy="1254" r="5.5" fill="none" stroke="#333" stroke-width="1.1"/>
<line x1="831.4" y1="1254" x2="850.4" y2="1254" stroke="#333" stroke-width="1.1" stroke-linecap="butt"/>
<line x1="840.9" y1="1244.5" x2="840.9" y2="1263.5" stroke="#333" stroke-width="1.1" stroke-linecap="butt"/>
<circle cx="898.5" cy="941.2" r="5.5" fill="none" stroke="#333" stroke-width="1.1"/>
<line x1="889" y1="941.2" x2="908" y2="941.2" stroke="#333" stroke-width="1.1" stroke-linecap="butt"/>
<line x1="898.5" y1="931.7" x2="898.5" y2="950.7" stroke="#333" stroke-width="1.1" stroke-linecap="butt"/>
<circle cx="898.5" cy="1254" r="5.5" fill="none" stroke="#333" stroke-width="1.1"/>
<line x1="889" y1="1254" x2="908" y2="1254" stroke="#333" stroke-width="1.1" stroke-linecap="butt"/>
<line x1="898.5" y1="1244.5" x2="898.5" y2="1263.5" stroke="#333" stroke-width="1.1" stroke-linecap="butt"/>
<rect x="714" y="974.4" width="196.5" height="246.6" fill="#e1e1e1" stroke="#303030" stroke-width="1.0"/>
<line x1="714" y1="1002" x2="910.5" y2="1002" stroke="#303030" stroke-width="1.0" stroke-linecap="butt"/>
<line x1="714" y1="1009.8" x2="910.5" y2="1009.8" stroke="#303030" stroke-width="1.0" stroke-linecap="butt"/>
<line x1="714" y1="1185.8" x2="910.5" y2="1185.8" stroke="#303030" stroke-width="1.0" stroke-linecap="butt"/>
<line x1="714" y1="1194.4" x2="910.5" y2="1194.4" stroke="#303030" stroke-width="1.0" stroke-linecap="butt"/>
<line x1="861.5" y1="1009.8" x2="861.5" y2="1185.8" stroke="#333" stroke-width="1.3" stroke-linecap="butt"/>
<line x1="861.5" y1="1069.5" x2="910.5" y2="1069.5" stroke="#222" stroke-width="1.8" stroke-linecap="butt"/>
<path d="M731.8,974.4 V988 M745.8,974.4 V988" fill="none" stroke="#444" stroke-width="0.9" />
<circle cx="738.8" cy="988" r="6" fill="none" stroke="#333" stroke-width="1.0"/>
<line x1="738.8" y1="981" x2="738.8" y2="995" stroke="#555" stroke-width="0.8" stroke-linecap="butt"/>
<path d="M780.8,974.4 V988 M794.8,974.4 V988" fill="none" stroke="#444" stroke-width="0.9" />
<circle cx="787.8" cy="988" r="6" fill="none" stroke="#333" stroke-width="1.0"/>
<line x1="787.8" y1="981" x2="787.8" y2="995" stroke="#555" stroke-width="0.8" stroke-linecap="butt"/>
<path d="M829.9,974.4 V988 M843.9,974.4 V988" fill="none" stroke="#444" stroke-width="0.9" />
<circle cx="836.9" cy="988" r="6" fill="none" stroke="#333" stroke-width="1.0"/>
<line x1="836.9" y1="981" x2="836.9" y2="995" stroke="#555" stroke-width="0.8" stroke-linecap="butt"/>
<path d="M879,974.4 V988 M893,974.4 V988" fill="none" stroke="#444" stroke-width="0.9" />
<circle cx="886" cy="988" r="6" fill="none" stroke="#333" stroke-width="1.0"/>
<line x1="886" y1="981" x2="886" y2="995" stroke="#555" stroke-width="0.8" stroke-linecap="butt"/>
<path d="M757.6,988 Q756.6,1006 763.6,1007 Q770.6,1006 769.6,988 Q763.6,980 757.6,988 Z" fill="none" stroke="#444" stroke-width="0.9" />
<circle cx="763.6" cy="988" r="4.5" fill="none" stroke="#333" stroke-width="1.0"/>
<line x1="755.1" y1="988" x2="772.1" y2="988" stroke="#333" stroke-width="1.0" stroke-linecap="butt"/>
<line x1="763.6" y1="979.5" x2="763.6" y2="996.5" stroke="#333" stroke-width="1.0" stroke-linecap="butt"/>
<circle cx="763.6" cy="988" r="1.8" fill="#1e1e1e" stroke="none" stroke-width="0"/>
<circle cx="763.6" cy="1001" r="4" fill="none" stroke="#555" stroke-width="1.0"/>
<line x1="757.6" y1="1001" x2="769.6" y2="1001" stroke="#555" stroke-width="1.0" stroke-linecap="butt"/>
<line x1="763.6" y1="995" x2="763.6" y2="1007" stroke="#555" stroke-width="1.0" stroke-linecap="butt"/>
<path d="M806.2,988 Q805.2,1006 812.2,1007 Q819.2,1006 818.2,988 Q812.2,980 806.2,988 Z" fill="none" stroke="#444" stroke-width="0.9" />
<circle cx="812.2" cy="988" r="4.5" fill="none" stroke="#333" stroke-width="1.0"/>
<line x1="803.7" y1="988" x2="820.7" y2="988" stroke="#333" stroke-width="1.0" stroke-linecap="butt"/>
<line x1="812.2" y1="979.5" x2="812.2" y2="996.5" stroke="#333" stroke-width="1.0" stroke-linecap="butt"/>
<circle cx="812.2" cy="988" r="1.8" fill="#1e1e1e" stroke="none" stroke-width="0"/>
<circle cx="812.2" cy="1001" r="4" fill="none" stroke="#555" stroke-width="1.0"/>
<line x1="806.2" y1="1001" x2="818.2" y2="1001" stroke="#555" stroke-width="1.0" stroke-linecap="butt"/>
<line x1="812.2" y1="995" x2="812.2" y2="1007" stroke="#555" stroke-width="1.0" stroke-linecap="butt"/>
<path d="M855.5,988 Q854.5,1006 861.5,1007 Q868.5,1006 867.5,988 Q861.5,980 855.5,988 Z" fill="none" stroke="#444" stroke-width="0.9" />
<circle cx="861.5" cy="988" r="4.5" fill="none" stroke="#333" stroke-width="1.0"/>
<line x1="853" y1="988" x2="870" y2="988" stroke="#333" stroke-width="1.0" stroke-linecap="butt"/>
<line x1="861.5" y1="979.5" x2="861.5" y2="996.5" stroke="#333" stroke-width="1.0" stroke-linecap="butt"/>
<circle cx="861.5" cy="988" r="1.8" fill="#1e1e1e" stroke="none" stroke-width="0"/>
<circle cx="861.5" cy="1001" r="4" fill="none" stroke="#555" stroke-width="1.0"/>
<line x1="855.5" y1="1001" x2="867.5" y2="1001" stroke="#555" stroke-width="1.0" stroke-linecap="butt"/>
<line x1="861.5" y1="995" x2="861.5" y2="1007" stroke="#555" stroke-width="1.0" stroke-linecap="butt"/>
<circle cx="739.5" cy="1005.5" r="4.5" fill="none" stroke="#333" stroke-width="1.0"/>
<line x1="731" y1="1005.5" x2="748" y2="1005.5" stroke="#333" stroke-width="1.0" stroke-linecap="butt"/>
<line x1="739.5" y1="997" x2="739.5" y2="1014" stroke="#333" stroke-width="1.0" stroke-linecap="butt"/>
<circle cx="836.9" cy="1005.5" r="4.5" fill="none" stroke="#333" stroke-width="1.0"/>
<line x1="828.4" y1="1005.5" x2="845.4" y2="1005.5" stroke="#333" stroke-width="1.0" stroke-linecap="butt"/>
<line x1="836.9" y1="997" x2="836.9" y2="1014" stroke="#333" stroke-width="1.0" stroke-linecap="butt"/>
<circle cx="885" cy="1005.5" r="4.5" fill="none" stroke="#333" stroke-width="1.0"/>
<line x1="876.5" y1="1005.5" x2="893.5" y2="1005.5" stroke="#333" stroke-width="1.0" stroke-linecap="butt"/>
<line x1="885" y1="997" x2="885" y2="1014" stroke="#333" stroke-width="1.0" stroke-linecap="butt"/>
<circle cx="726.5" cy="983.7" r="3" fill="none" stroke="#333" stroke-width="1.2"/>
<circle cx="898.5" cy="983.7" r="3" fill="none" stroke="#333" stroke-width="1.2"/>
<path d="M731.8,1221 V1208 M745.8,1221 V1208" fill="none" stroke="#444" stroke-width="0.9" />
<circle cx="738.8" cy="1208" r="6" fill="none" stroke="#333" stroke-width="1.0"/>
<line x1="738.8" y1="1201" x2="738.8" y2="1215" stroke="#555" stroke-width="0.8" stroke-linecap="butt"/>
<path d="M780.8,1221 V1208 M794.8,1221 V1208" fill="none" stroke="#444" stroke-width="0.9" />
<circle cx="787.8" cy="1208" r="6" fill="none" stroke="#333" stroke-width="1.0"/>
<line x1="787.8" y1="1201" x2="787.8" y2="1215" stroke="#555" stroke-width="0.8" stroke-linecap="butt"/>
<path d="M829.9,1221 V1208 M843.9,1221 V1208" fill="none" stroke="#444" stroke-width="0.9" />
<circle cx="836.9" cy="1208" r="6" fill="none" stroke="#333" stroke-width="1.0"/>
<line x1="836.9" y1="1201" x2="836.9" y2="1215" stroke="#555" stroke-width="0.8" stroke-linecap="butt"/>
<path d="M879,1221 V1208 M893,1221 V1208" fill="none" stroke="#444" stroke-width="0.9" />
<circle cx="886" cy="1208" r="6" fill="none" stroke="#333" stroke-width="1.0"/>
<line x1="886" y1="1201" x2="886" y2="1215" stroke="#555" stroke-width="0.8" stroke-linecap="butt"/>
<path d="M757.6,1212 Q756.6,1188 763.6,1188 Q770.6,1188 769.6,1212 Q763.6,1216 757.6,1212 Z" fill="none" stroke="#444" stroke-width="0.9" />
<circle cx="763.6" cy="1207" r="4.5" fill="none" stroke="#333" stroke-width="1.0"/>
<line x1="755.1" y1="1207" x2="772.1" y2="1207" stroke="#333" stroke-width="1.0" stroke-linecap="butt"/>
<line x1="763.6" y1="1198.5" x2="763.6" y2="1215.5" stroke="#333" stroke-width="1.0" stroke-linecap="butt"/>
<circle cx="763.6" cy="1207" r="1.8" fill="#1e1e1e" stroke="none" stroke-width="0"/>
<circle cx="763.6" cy="1194.5" r="4" fill="none" stroke="#555" stroke-width="1.0"/>
<line x1="757.6" y1="1194.5" x2="769.6" y2="1194.5" stroke="#555" stroke-width="1.0" stroke-linecap="butt"/>
<line x1="763.6" y1="1188.5" x2="763.6" y2="1200.5" stroke="#555" stroke-width="1.0" stroke-linecap="butt"/>
<path d="M806.2,1212 Q805.2,1188 812.2,1188 Q819.2,1188 818.2,1212 Q812.2,1216 806.2,1212 Z" fill="none" stroke="#444" stroke-width="0.9" />
<circle cx="812.2" cy="1207" r="4.5" fill="none" stroke="#333" stroke-width="1.0"/>
<line x1="803.7" y1="1207" x2="820.7" y2="1207" stroke="#333" stroke-width="1.0" stroke-linecap="butt"/>
<line x1="812.2" y1="1198.5" x2="812.2" y2="1215.5" stroke="#333" stroke-width="1.0" stroke-linecap="butt"/>
<circle cx="812.2" cy="1207" r="1.8" fill="#1e1e1e" stroke="none" stroke-width="0"/>
<circle cx="812.2" cy="1194.5" r="4" fill="none" stroke="#555" stroke-width="1.0"/>
<line x1="806.2" y1="1194.5" x2="818.2" y2="1194.5" stroke="#555" stroke-width="1.0" stroke-linecap="butt"/>
<line x1="812.2" y1="1188.5" x2="812.2" y2="1200.5" stroke="#555" stroke-width="1.0" stroke-linecap="butt"/>
<path d="M855.5,1212 Q854.5,1188 861.5,1188 Q868.5,1188 867.5,1212 Q861.5,1216 855.5,1212 Z" fill="none" stroke="#444" stroke-width="0.9" />
<circle cx="861.5" cy="1207" r="4.5" fill="none" stroke="#333" stroke-width="1.0"/>
<line x1="853" y1="1207" x2="870" y2="1207" stroke="#333" stroke-width="1.0" stroke-linecap="butt"/>
<line x1="861.5" y1="1198.5" x2="861.5" y2="1215.5" stroke="#333" stroke-width="1.0" stroke-linecap="butt"/>
<circle cx="861.5" cy="1207" r="1.8" fill="#1e1e1e" stroke="none" stroke-width="0"/>
<circle cx="861.5" cy="1194.5" r="4" fill="none" stroke="#555" stroke-width="1.0"/>
<line x1="855.5" y1="1194.5" x2="867.5" y2="1194.5" stroke="#555" stroke-width="1.0" stroke-linecap="butt"/>
<line x1="861.5" y1="1188.5" x2="861.5" y2="1200.5" stroke="#555" stroke-width="1.0" stroke-linecap="butt"/>
<circle cx="726.5" cy="1212" r="3" fill="none" stroke="#333" stroke-width="1.2"/>
<circle cx="898.5" cy="1212" r="3" fill="none" stroke="#333" stroke-width="1.2"/>
<rect x="761.5" y="809.5" width="4.2" height="164.9" rx="1.5" fill="#d6d6d6" stroke="#444" stroke-width="0.9"/>
<rect x="761.5" y="1221" width="4.2" height="165.2" rx="1.5" fill="#d6d6d6" stroke="#444" stroke-width="0.9"/>
<circle cx="763.6" cy="972.5" r="3" fill="#e6e6e6" stroke="#444" stroke-width="0.9"/>
<circle cx="763.6" cy="1223" r="3" fill="#e6e6e6" stroke="#444" stroke-width="0.9"/>
<rect x="810.1" y="809.5" width="4.2" height="164.9" rx="1.5" fill="#d6d6d6" stroke="#444" stroke-width="0.9"/>
<rect x="810.1" y="1221" width="4.2" height="165.2" rx="1.5" fill="#d6d6d6" stroke="#444" stroke-width="0.9"/>
<circle cx="812.2" cy="972.5" r="3" fill="#e6e6e6" stroke="#444" stroke-width="0.9"/>
<circle cx="812.2" cy="1223" r="3" fill="#e6e6e6" stroke="#444" stroke-width="0.9"/>
<rect x="859.4" y="809.5" width="4.2" height="164.9" rx="1.5" fill="#d6d6d6" stroke="#444" stroke-width="0.9"/>
<rect x="859.4" y="1221" width="4.2" height="165.2" rx="1.5" fill="#d6d6d6" stroke="#444" stroke-width="0.9"/>
<circle cx="861.5" cy="972.5" r="3" fill="#e6e6e6" stroke="#444" stroke-width="0.9"/>
<circle cx="861.5" cy="1223" r="3" fill="#e6e6e6" stroke="#444" stroke-width="0.9"/>
<circle cx="787.8" cy="1068" r="58.7" fill="none" stroke="#333" stroke-width="1.0"/>
<path d="M764,1025 Q764,1019.3 769.5,1019.3 Q787.8,1024 806.5,1019.3 Q812.6,1019.3 812.6,1025 V1132 Q812.6,1137.6 807,1137.6 H769.5 Q764,1137.6 764,1132 Z" fill="#e1e1e1" stroke="#333" stroke-width="1.1" />
<path d="M775.6,1023 V1101 M800,1023 V1101" fill="none" stroke="#333" stroke-width="1.0" />
<line x1="776" y1="1031.5" x2="800" y2="1031.5" stroke="#555" stroke-width="1.2" stroke-linecap="butt"/>
<line x1="776" y1="1096" x2="800" y2="1096" stroke="#777" stroke-width="1.4" stroke-linecap="butt"/>
<rect x="777" y="1057.5" width="21.7" height="17.7" rx="2.5" fill="#e1e1e1" stroke="#333" stroke-width="1.1"/>
<line x1="777" y1="1070.5" x2="798.7" y2="1070.5" stroke="#303030" stroke-width="1.0" stroke-linecap="butt"/>
<line x1="767" y1="1063" x2="776" y2="1063" stroke="#1e1e1e" stroke-width="1.6" stroke-linecap="butt"/>
<line x1="800" y1="1063" x2="808" y2="1063" stroke="#1e1e1e" stroke-width="1.6" stroke-linecap="butt"/>
<circle cx="770.5" cy="1088" r="3" fill="none" stroke="#333" stroke-width="1.2"/>
<circle cx="804.6" cy="1088" r="3" fill="none" stroke="#333" stroke-width="1.2"/>
<line x1="770.8" y1="1027.5" x2="770.8" y2="1034.5" stroke="#1e1e1e" stroke-width="1.8" stroke-linecap="butt"/>
<line x1="804.8" y1="1027.5" x2="804.8" y2="1034.5" stroke="#1e1e1e" stroke-width="1.8" stroke-linecap="butt"/>
<text transform="translate(787.8,1031) scale(0.7,1)" font-size="12" text-anchor="middle" fill="#333">ON</text>
<text transform="translate(788.5,1108) scale(0.7,1)" font-size="12" text-anchor="middle" fill="#333">OFF</text>
<rect x="769" y="1122" width="9" height="8" fill="none" stroke="#333" stroke-width="1.1"/>
<text transform="translate(781,1130)" font-size="5.5" text-anchor="start" fill="#555">PUSH TO TRIP</text>
<rect x="718.3" y="1139.5" width="139.7" height="46.3" fill="none" stroke="#222" stroke-width="1.6"/>
<rect x="720.5" y="1141.5" width="135.5" height="40.9" fill="none" stroke="#222" stroke-width="1.6"/>
<rect x="724.3" y="1148" width="4.9" height="10.8" fill="none" stroke="#333" stroke-width="1.1"/>
<line x1="787.8" y1="913" x2="787.8" y2="1282.2" stroke="#1e1e1e" stroke-width="1.6" stroke-dasharray="36.5,7.8,7.3,8.4" stroke-dashoffset="44.6"/>
<line x1="700.7" y1="1097.7" x2="917.4" y2="1097.7" stroke="#1e1e1e" stroke-width="1.6" stroke-dasharray="36.5,7.8,7.3,8.4" stroke-dashoffset="0"/>
<text transform="translate(888.6,1043.6)" font-size="26" text-anchor="middle" fill="#1e1e1e">N</text>
<text transform="translate(693,1106)" font-size="21.5" text-anchor="middle" fill="#1e1e1e">X</text>
<text transform="translate(936.3,1106)" font-size="21.5" text-anchor="middle" fill="#1e1e1e">X</text>
<text transform="translate(790.3,680)" font-size="23" text-anchor="middle" fill="#1e1e1e">Y</text>
<text transform="translate(786.5,1417.4)" font-size="23" text-anchor="middle" fill="#1e1e1e">Y</text>
<line x1="665.3" y1="1003.5" x2="694.9" y2="1003.5" stroke="#1e1e1e" stroke-width="1.4" stroke-linecap="butt"/>
<line x1="694.9" y1="1003.5" x2="764.5" y2="975.4" stroke="#1e1e1e" stroke-width="1.4" stroke-linecap="butt"/>
<polygon points="764.5,975.4 745.78,987.81 742.42,979.46" fill="#1e1e1e"/>
<polygon points="716,995 697.28,1007.41 693.92,999.06" fill="#1e1e1e"/>
<text transform="translate(673,1000.2)" font-size="19.5" text-anchor="middle" fill="#1e1e1e">M8</text>
<line x1="714" y1="731" x2="714" y2="925.4" stroke="#303030" stroke-width="0.9" stroke-linecap="butt"/>
<line x1="910.5" y1="731" x2="910.5" y2="925.4" stroke="#303030" stroke-width="0.9" stroke-linecap="butt"/>
<line x1="726.3" y1="751" x2="726.3" y2="941" stroke="#303030" stroke-width="0.9" stroke-linecap="butt"/>
<line x1="898.5" y1="751" x2="898.5" y2="941" stroke="#303030" stroke-width="0.9" stroke-linecap="butt"/>
<line x1="738.8" y1="768" x2="738.8" y2="925.4" stroke="#303030" stroke-width="0.9" stroke-linecap="butt"/>
<line x1="886.7" y1="768" x2="886.7" y2="925.4" stroke="#303030" stroke-width="0.9" stroke-linecap="butt"/>
<line x1="784.2" y1="791" x2="784.2" y2="941" stroke="#303030" stroke-width="0.9" stroke-linecap="butt"/>
<line x1="841.4" y1="791" x2="841.4" y2="941" stroke="#303030" stroke-width="0.9" stroke-linecap="butt"/>
<line x1="714" y1="737" x2="910.5" y2="737" stroke="#1e1e1e" stroke-width="1.6" stroke-linecap="butt"/>
<polygon points="714,737 736,733.25 736,740.75" fill="#1e1e1e"/>
<polygon points="910.5,737 888.5,740.75 888.5,733.25" fill="#1e1e1e"/>
<line x1="726.3" y1="756" x2="898.5" y2="756" stroke="#1e1e1e" stroke-width="1.6" stroke-linecap="butt"/>
<polygon points="726.3,756 748.3,752.25 748.3,759.75" fill="#1e1e1e"/>
<polygon points="898.5,756 876.5,759.75 876.5,752.25" fill="#1e1e1e"/>
<line x1="738.8" y1="773.6" x2="886.7" y2="773.6" stroke="#1e1e1e" stroke-width="1.6" stroke-linecap="butt"/>
<polygon points="738.8,773.6 760.8,769.85 760.8,777.35" fill="#1e1e1e"/>
<polygon points="886.7,773.6 864.7,777.35 864.7,769.85" fill="#1e1e1e"/>
<line x1="784.2" y1="795.6" x2="841.4" y2="795.6" stroke="#1e1e1e" stroke-width="1.6" stroke-linecap="butt"/>
<polygon points="784.2,795.6 805.2,791.85 805.2,799.35" fill="#1e1e1e"/>
<polygon points="841.4,795.6 820.4,799.35 820.4,791.85" fill="#1e1e1e"/>
<text transform="translate(815,731.6)" font-size="18.5" text-anchor="middle" fill="#1e1e1e">120</text>
<text transform="translate(815,752.2)" font-size="18.5" text-anchor="middle" fill="#1e1e1e">105</text>
<text transform="translate(814,772)" font-size="18.5" text-anchor="middle" fill="#1e1e1e">90</text>
<text transform="translate(814,791.7)" font-size="18.5" text-anchor="middle" fill="#1e1e1e">35</text>
<rect x="1021.3" y="810.3" width="112.2" height="160.5" fill="#e1e1e1" stroke="#303030" stroke-width="1.0"/>
<rect x="1021.3" y="1222.5" width="112.2" height="159.8" fill="#e1e1e1" stroke="#303030" stroke-width="1.0"/>
<path d="M1160.2,1009.6 C1163,1011 1164.5,1015 1165.6,1018.4 C1170,1024 1174,1031 1176.4,1037.3 C1179,1043 1182,1050 1183.1,1054.9 C1184.5,1062 1184.8,1068 1184.5,1074.5 C1184.3,1082 1184,1089 1182.8,1095.5 C1181,1102 1179,1107 1176.4,1111.7 C1171,1120 1166,1127 1160.2,1133.3 Z" fill="#e1e1e1" stroke="#333" stroke-width="1.0" />
<path d="M1160.2,1009.6 C1162,1012 1164,1016 1164.9,1019.7 C1167,1027 1168,1032 1168.3,1037.3 C1169.5,1050 1169.8,1060 1169.6,1067.8 C1169.4,1080 1169,1090 1168.3,1098.2 C1167.5,1106 1166,1112 1164.2,1117.1 C1163,1119 1162,1120.5 1160.2,1121.2" fill="none" stroke="#333" stroke-width="1.0" />
<path d="M1183.5,1058.3 L1203.4,1057.3 A6.2,6.2 0 1 1 1203.4,1068.4 L1184,1070.5 Z" fill="#e1e1e1" stroke="#333" stroke-width="1.0" />
<polygon points="1133.5,1000 1153,1000 1153,1008.5 1160.1,1008.5 1160.1,1184 1144,1184 1133.5,1184" fill="#e1e1e1" stroke="#333" stroke-width="1.0" stroke-linejoin="round"/>
<circle cx="1132.8" cy="1182.5" r="9.7" fill="#e1e1e1" stroke="#333" stroke-width="1.0"/>
<rect x="1021.6" y="974.6" width="111.9" height="244" fill="#e1e1e1" stroke="#303030" stroke-width="1.0"/>
<rect x="1021.6" y="970.8" width="111.9" height="3.8" fill="#e1e1e1" stroke="#333" stroke-width="1.2"/>
<rect x="1021.6" y="1218.6" width="111.9" height="3.9" fill="#e1e1e1" stroke="#333" stroke-width="1.2"/>
<rect x="1133" y="1184" width="20.5" height="8" fill="#e1e1e1" stroke="none" stroke-width="0"/>
<line x1="1021.6" y1="970.8" x2="1133.5" y2="970.8" stroke="#333" stroke-width="1.4" stroke-linecap="butt"/>
<line x1="1021.6" y1="1222.5" x2="1133.5" y2="1222.5" stroke="#333" stroke-width="1.4" stroke-linecap="butt"/>
<rect x="1124" y="1175" width="10" height="17" fill="#e1e1e1" stroke="none" stroke-width="0"/>
<path d="M1133.5,1174 A9.7,9.7 0 1 0 1142,1189 L1153.5,1189 V1184" fill="none" stroke="#333" stroke-width="1.0" />
<line x1="1100.5" y1="974.6" x2="1100.5" y2="1218.6" stroke="#333" stroke-width="1.3" stroke-linecap="butt"/>
<line x1="1100.5" y1="1140.4" x2="1133.5" y2="1140.4" stroke="#333" stroke-width="1.3" stroke-linecap="butt"/>
<rect x="1052.7" y="975" width="3" height="29" fill="#eee" stroke="#888" stroke-width="0.7"/>
<rect x="1052.7" y="1188.6" width="3" height="29.4" fill="#eee" stroke="#888" stroke-width="0.7"/>
<rect x="1056.5" y="925.8" width="10.1" height="45" rx="1" fill="#e1e1e1" stroke="#333" stroke-width="1.0"/>
<rect x="1056.3" y="1222.5" width="10.2" height="44.2" rx="1" fill="#e1e1e1" stroke="#333" stroke-width="1.0"/>
<rect x="1133.5" y="1032.3" width="16.9" height="40.2" fill="#e1e1e1" stroke="#333" stroke-width="1.0"/>
<rect x="1133.5" y="1099.5" width="16.9" height="19.3" fill="#e1e1e1" stroke="#333" stroke-width="1.0"/>
<rect x="1135.5" y="1033.5" width="11" height="4" rx="1.5" fill="none" stroke="#333" stroke-width="1.0"/>
<rect x="1135.5" y="1039" width="11" height="4" rx="1.5" fill="none" stroke="#333" stroke-width="1.0"/>
<rect x="1135.5" y="1044.5" width="11" height="4" rx="1.5" fill="none" stroke="#333" stroke-width="1.0"/>
<rect x="1135.5" y="1055.5" width="11" height="4" rx="1.5" fill="none" stroke="#333" stroke-width="1.0"/>
<rect x="1135.5" y="1061" width="11" height="4" rx="1.5" fill="none" stroke="#333" stroke-width="1.0"/>
<rect x="1135.5" y="1066.5" width="11" height="4" rx="1.5" fill="none" stroke="#333" stroke-width="1.0"/>
<rect x="1135.5" y="1101" width="11" height="4" rx="1.5" fill="none" stroke="#333" stroke-width="1.0"/>
<rect x="1135.5" y="1108.5" width="11" height="4" rx="1.5" fill="none" stroke="#333" stroke-width="1.0"/>
<line x1="1007.8" y1="1096.4" x2="1201.1" y2="1096.4" stroke="#1e1e1e" stroke-width="1.6" stroke-dasharray="36.5,7.8,7.3,8.4" stroke-dashoffset="0"/>
<line x1="1160.1" y1="764" x2="1160.1" y2="1008.5" stroke="#303030" stroke-width="0.9" stroke-linecap="butt"/>
<line x1="1212.4" y1="731" x2="1212.4" y2="1063" stroke="#303030" stroke-width="0.9" stroke-linecap="butt"/>
<line x1="1021.2" y1="730" x2="1021.2" y2="810.3" stroke="#303030" stroke-width="0.9" stroke-linecap="butt"/>
<line x1="1021.2" y1="735.9" x2="1212.4" y2="735.9" stroke="#1e1e1e" stroke-width="1.6" stroke-linecap="butt"/>
<polygon points="1021.2,735.9 1043.2,732.15 1043.2,739.65" fill="#1e1e1e"/>
<polygon points="1212.4,735.9 1190.4,739.65 1190.4,732.15" fill="#1e1e1e"/>
<line x1="1021.2" y1="769.1" x2="1160.1" y2="769.1" stroke="#1e1e1e" stroke-width="1.6" stroke-linecap="butt"/>
<polygon points="1021.2,769.1 1043.2,765.35 1043.2,772.85" fill="#1e1e1e"/>
<polygon points="1160.1,769.1 1138.1,772.85 1138.1,765.35" fill="#1e1e1e"/>
<text transform="translate(1117.6,734)" font-size="18.5" text-anchor="middle" fill="#1e1e1e">118</text>
<text transform="translate(1090.8,766.4)" font-size="18.5" text-anchor="middle" fill="#1e1e1e">85</text>
<line x1="1021.6" y1="947.2" x2="1056.5" y2="947.2" stroke="#1e1e1e" stroke-width="1.3" stroke-linecap="butt"/>
<polygon points="1021.6,947.2 1038.6,943.7 1038.6,950.7" fill="#1e1e1e"/>
<polygon points="1056.5,947.2 1039.5,950.7 1039.5,943.7" fill="#1e1e1e"/>
<line x1="1066.6" y1="947.2" x2="1097.5" y2="947.2" stroke="#1e1e1e" stroke-width="1.3" stroke-linecap="butt"/>
<polygon points="1066.6,947.2 1085.6,943.7 1085.6,950.7" fill="#1e1e1e"/>
<text transform="translate(1039.3,940.9)" font-size="18.5" text-anchor="middle" fill="#1e1e1e">22</text>
<text transform="translate(1078.4,940.9)" font-size="18.5" text-anchor="middle" fill="#1e1e1e">6</text>
<path d="M1086,936 L1092,930.5 V933.5 H1104 V938.5 H1092 V941.5 Z" fill="#fff" stroke="#333" stroke-width="1.0" />
<path d="M1081,1257 L1087,1251.5 V1254.5 H1100 V1259.5 H1087 V1262.5 Z" fill="#fff" stroke="#333" stroke-width="1.0" />
<line x1="1153.5" y1="1184" x2="1153.5" y2="1222" stroke="#303030" stroke-width="0.9" stroke-linecap="butt"/>
<line x1="1127.8" y1="1198.2" x2="1153.5" y2="1198.2" stroke="#1e1e1e" stroke-width="1.3" stroke-linecap="butt"/>
<polygon points="1153.5,1198.2 1135.5,1201.45 1135.5,1194.95" fill="#1e1e1e"/>
<line x1="1160.1" y1="1198.2" x2="1192.4" y2="1198.2" stroke="#1e1e1e" stroke-width="1.3" stroke-linecap="butt"/>
<polygon points="1160.1,1198.2 1178.1,1194.95 1178.1,1201.45" fill="#1e1e1e"/>
<line x1="1160.1" y1="1184" x2="1160.1" y2="1222" stroke="#303030" stroke-width="0.9" stroke-linecap="butt"/>
<text transform="translate(1176.3,1192.5)" font-size="18.5" text-anchor="middle" fill="#1e1e1e">4</text>
<text transform="translate(1147.3,1215.6)" font-size="17" text-anchor="middle" fill="#1e1e1e" textLength="25.5" lengthAdjust="spacingAndGlyphs">16.6</text>
<line x1="1133.5" y1="1220" x2="1160.1" y2="1220" stroke="#1e1e1e" stroke-width="1.2" stroke-linecap="butt"/>
<polygon points="1133.5,1220 1145.5,1217.5 1145.5,1222.5" fill="#1e1e1e"/>
<polygon points="1160.1,1220 1148.1,1222.5 1148.1,1217.5" fill="#1e1e1e"/>
<text transform="translate(925.2,1290.4)" font-size="13.5" text-anchor="start" fill="#222" textLength="78.7" lengthAdjust="spacingAndGlyphs">Tấm chắn pha</text>
<line x1="927.9" y1="1297" x2="1011.6" y2="1297" stroke="#1e1e1e" stroke-width="1.4" stroke-linecap="butt"/>
<line x1="1011.6" y1="1297" x2="1029.9" y2="1285.3" stroke="#1e1e1e" stroke-width="1.4" stroke-linecap="butt"/>
<polygon points="1029.9,1285.3 1016.89,1298.37 1012.58,1291.63" fill="#1e1e1e"/>
<path d="M1289.2,1000.6 C1289.9,998.1 1288.1,992.3 1291.9,989.9 C1295.6,987.5 1305.9,986.3 1311.5,986.3 C1317.2,986.3 1321.1,989.6 1325.8,989.9 C1330.6,990.2 1335.4,988.9 1340.1,988.1 C1344.9,987.3 1350.7,984.8 1354.4,985.1 C1358.2,985.4 1361.0,987.2 1362.5,989.9 C1364.0,992.6 1364.0,996.6 1363.4,1001.5 C1362.8,1006.4 1359.5,1012.0 1358.9,1019.4 C1358.3,1026.9 1360.0,1037.3 1359.8,1046.2 C1359.7,1055.2 1358.0,1064.7 1358.0,1073.1 C1358.0,1081.4 1358.9,1090.3 1359.8,1096.3 C1360.7,1102.3 1363.2,1103.8 1363.4,1108.8 C1363.5,1113.9 1360.7,1119.3 1360.7,1126.7 C1360.7,1134.2 1363.2,1144.6 1363.4,1153.5 C1363.6,1162.5 1362.0,1172.9 1362.1,1180.4 C1362.3,1187.8 1364.4,1194.2 1364.3,1198.2 C1364.2,1202.3 1364.7,1203.2 1361.6,1204.5 C1358.5,1205.8 1351.5,1206.4 1345.5,1206.3 C1339.5,1206.1 1334.2,1204.2 1325.8,1203.6 C1317.5,1203.0 1302.1,1203.9 1295.4,1202.7 C1288.7,1201.5 1287.0,1198.7 1285.6,1196.5 C1284.2,1194.2 1286.3,1195.0 1286.9,1189.3 C1287.4,1183.6 1288.3,1171.4 1289.2,1162.5 C1290.0,1153.5 1291.6,1143.1 1291.9,1135.7 C1292.2,1128.2 1290.7,1124.3 1291.0,1117.8 C1291.3,1111.2 1293.8,1102.3 1293.6,1096.3 C1293.5,1090.3 1290.5,1087.4 1290.1,1082.0 C1289.6,1076.6 1290.2,1070.1 1291.0,1064.1 C1291.7,1058.2 1294.7,1053.7 1294.5,1046.2 C1294.4,1038.8 1291.3,1026.3 1290.1,1019.4 C1288.9,1012.6 1287.5,1008.2 1287.4,1005.1 C1287.2,1002.0 1288.4,1003.2 1289.2,1000.6 Z" fill="#e1e1e1" stroke="#333" stroke-width="1.1" />
<circle cx="1301.7" cy="1000.1" r="3.8" fill="none" stroke="#333" stroke-width="1.1"/>
<line x1="1301.7" y1="993.1" x2="1301.7" y2="1007.1" stroke="#555" stroke-width="0.8" stroke-linecap="butt"/>
<circle cx="1301.7" cy="1192.5" r="3.8" fill="none" stroke="#333" stroke-width="1.1"/>
<line x1="1301.7" y1="1185.5" x2="1301.7" y2="1199.5" stroke="#555" stroke-width="0.8" stroke-linecap="butt"/>
<circle cx="1350.5" cy="1000.1" r="3.8" fill="none" stroke="#333" stroke-width="1.1"/>
<line x1="1350.5" y1="993.1" x2="1350.5" y2="1007.1" stroke="#555" stroke-width="0.8" stroke-linecap="butt"/>
<circle cx="1350.5" cy="1192.5" r="3.8" fill="none" stroke="#333" stroke-width="1.1"/>
<line x1="1350.5" y1="1185.5" x2="1350.5" y2="1199.5" stroke="#555" stroke-width="0.8" stroke-linecap="butt"/>
<line x1="1295.4" y1="1000.1" x2="1401" y2="1000.1" stroke="#222" stroke-width="1.0" stroke-linecap="butt"/>
<line x1="1295.4" y1="1192.5" x2="1401" y2="1192.5" stroke="#222" stroke-width="1.0" stroke-linecap="butt"/>
<line x1="1395.6" y1="1000.1" x2="1395.6" y2="1192.5" stroke="#1e1e1e" stroke-width="1.6" stroke-linecap="butt"/>
<polygon points="1395.6,1000.1 1399.35,1022.1 1391.85,1022.1" fill="#1e1e1e"/>
<polygon points="1395.6,1192.5 1391.85,1170.5 1399.35,1170.5" fill="#1e1e1e"/>
<text transform="translate(1392.9,1095.8) rotate(-90)" font-size="19" text-anchor="middle" fill="#1e1e1e" textLength="27.7" lengthAdjust="spacingAndGlyphs">118</text>
<line x1="1326.7" y1="980" x2="1326.7" y2="982.8" stroke="#1e1e1e" stroke-width="1.6" stroke-linecap="butt"/>
<line x1="1326.7" y1="985.4" x2="1326.7" y2="1026.6" stroke="#1e1e1e" stroke-width="1.6" stroke-linecap="butt"/>
<line x1="1326.7" y1="1035.5" x2="1326.7" y2="1041.8" stroke="#1e1e1e" stroke-width="1.6" stroke-linecap="butt"/>
<line x1="1326.7" y1="1053.4" x2="1326.7" y2="1091.8" stroke="#1e1e1e" stroke-width="1.6" stroke-linecap="butt"/>
<line x1="1326.7" y1="1095.4" x2="1326.7" y2="1097.2" stroke="#1e1e1e" stroke-width="1.6" stroke-linecap="butt"/>
<line x1="1326.7" y1="1102.6" x2="1326.7" y2="1142.8" stroke="#1e1e1e" stroke-width="1.6" stroke-linecap="butt"/>
<line x1="1326.7" y1="1150" x2="1326.7" y2="1155.5" stroke="#1e1e1e" stroke-width="1.6" stroke-linecap="butt"/>
<line x1="1326.7" y1="1164.3" x2="1326.7" y2="1206.3" stroke="#1e1e1e" stroke-width="1.6" stroke-linecap="butt"/>
<line x1="1278.4" y1="1096.3" x2="1313.3" y2="1096.3" stroke="#1e1e1e" stroke-width="1.6" stroke-linecap="butt"/>
<line x1="1321.4" y1="1096.3" x2="1329.4" y2="1096.3" stroke="#1e1e1e" stroke-width="1.6" stroke-linecap="butt"/>
<line x1="1338.4" y1="1096.3" x2="1371.4" y2="1096.3" stroke="#1e1e1e" stroke-width="1.6" stroke-linecap="butt"/>
<text transform="translate(1260.6,1104.4) scale(0.62,1)" font-size="26" text-anchor="middle" fill="#1e1e1e">X</text>
<text transform="translate(1408,1104.4) scale(0.62,1)" font-size="26" text-anchor="middle" fill="#1e1e1e">X</text>
<text transform="translate(1326.7,968.4) scale(0.62,1)" font-size="26" text-anchor="middle" fill="#1e1e1e">Y</text>
<text transform="translate(1326.7,1259.3) scale(0.62,1)" font-size="26" text-anchor="middle" fill="#1e1e1e">Y</text>
<line x1="1301.7" y1="1198" x2="1301.7" y2="1233" stroke="#777" stroke-width="0.8" stroke-linecap="butt"/>
<line x1="1350.5" y1="1198" x2="1350.5" y2="1233" stroke="#777" stroke-width="0.8" stroke-linecap="butt"/>
<line x1="1301.7" y1="1227.7" x2="1350.5" y2="1227.7" stroke="#1e1e1e" stroke-width="1.6" stroke-linecap="butt"/>
<polygon points="1301.7,1227.7 1321.7,1224.2 1321.7,1231.2" fill="#1e1e1e"/>
<polygon points="1350.5,1227.7 1330.5,1231.2 1330.5,1224.2" fill="#1e1e1e"/>
<text transform="translate(1325.8,1226)" font-size="18" text-anchor="middle" fill="#1e1e1e">30</text>
<line x1="1350.5" y1="1192.5" x2="1363.4" y2="1211.6" stroke="#1e1e1e" stroke-width="1.2" stroke-linecap="butt"/>
<line x1="1363.4" y1="1211.6" x2="1479.6" y2="1211.6" stroke="#1e1e1e" stroke-width="1.4" stroke-linecap="butt"/>
<polygon points="1347.3,1185.7 1335.76,1168.99 1342.12,1166.07" fill="#1e1e1e"/>
<polygon points="1354.5,1198.2 1366.24,1212.29 1360.11,1215.66" fill="#1e1e1e"/>
<text transform="translate(1368.8,1208)" font-size="18.5" text-anchor="start" fill="#1e1e1e" textLength="97" lengthAdjust="spacingAndGlyphs">Ø4.5 or M4</text>
<text transform="translate(1246.3,1302.9)" font-size="18.5" text-anchor="start" fill="#1e1e1e" textLength="218" lengthAdjust="spacingAndGlyphs">Đánh dấu để lắp đặt trên</text>
<text transform="translate(1246.3,1325)" font-size="18.5" text-anchor="start" fill="#1e1e1e" textLength="71" lengthAdjust="spacingAndGlyphs">tấm gắn</text>
</svg>
</body></html>
